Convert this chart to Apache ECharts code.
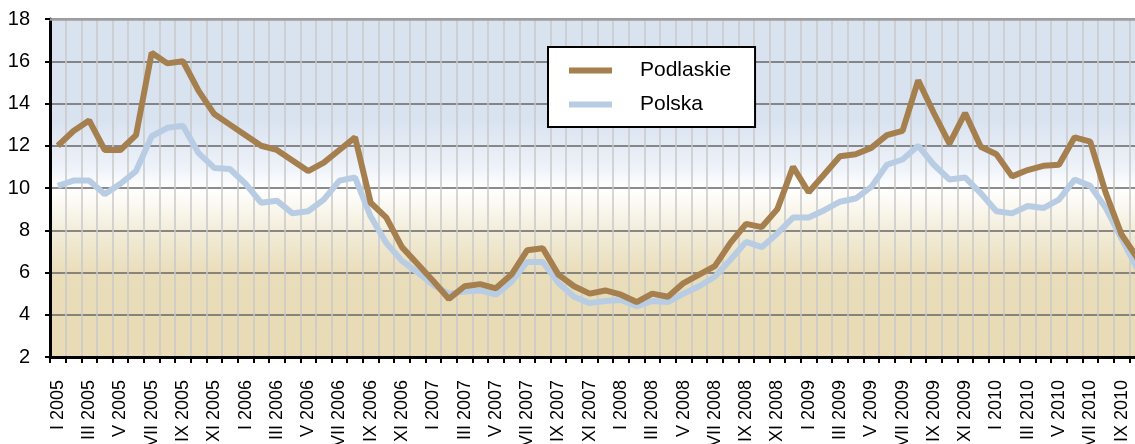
<!DOCTYPE html>
<html>
<head>
<meta charset="utf-8">
<script src="https://cdn.jsdelivr.net/npm/echarts@6/dist/echarts.min.js"></script>
<style>
html,body{margin:0;padding:0;background:#fff;}
#c{width:1135px;height:444px;}
</style>
</head>
<body>
<div id="c"></div>
<script>
const months = ['I','II','III','IV','V','VI','VII','VIII','IX','X','XI','XII'];
const categories = [];
for (let y = 2005; y <= 2010; y++) {
  for (let m = 0; m < 12; m++) {
    if (y === 2010 && m > 9) break;
    categories.push(months[m] + ' ' + y);
  }
}
const podlaskie = [
  12.0, 12.7, 13.2, 11.8, 11.8, 12.5, 16.4, 15.9, 16.0, 14.6, 13.5, 13.0,
  12.5, 12.0, 11.8, 11.3, 10.8, 11.2, 11.8, 12.4, 9.3, 8.6, 7.2, 6.4,
  5.6, 4.75, 5.35, 5.45, 5.25, 5.9, 7.05, 7.15, 5.9, 5.35, 5.0, 5.15,
  4.95, 4.6, 5.0, 4.85, 5.5, 5.9, 6.3, 7.4, 8.3, 8.15, 9.0, 11.0,
  9.8, 10.65, 11.5, 11.6, 11.9, 12.5, 12.7, 15.1, 13.55, 12.1, 13.55, 11.95,
  11.6, 10.55, 10.85, 11.05, 11.1, 12.4, 12.2, 9.75, 7.8, 6.7
];
const polska = [
  10.1, 10.35, 10.35, 9.7, 10.2, 10.8, 12.45, 12.85, 12.95, 11.65, 10.95, 10.9,
  10.2, 9.3, 9.4, 8.8, 8.9, 9.45, 10.35, 10.5, 8.65, 7.4, 6.55, 6.0,
  5.4, 5.0, 5.1, 5.15, 4.95, 5.55, 6.5, 6.5, 5.5, 4.85, 4.55, 4.65,
  4.7, 4.4, 4.65, 4.6, 5.0, 5.35, 5.8, 6.6, 7.45, 7.2, 7.85, 8.6,
  8.6, 8.95, 9.35, 9.5, 10.05, 11.1, 11.35, 12.0, 11.1, 10.4, 10.5, 9.75,
  8.9, 8.8, 9.15, 9.05, 9.45, 10.4, 10.1, 9.05, 7.6, 6.2
];
const yMin = 2, yMax = 18, yStep = 2;

const chart = echarts.init(document.getElementById('c'));
const font = 'Liberation Sans, Arial, sans-serif';
chart.setOption({
  animation: false,
  textStyle: { fontFamily: font },
  grid: {
    left: 50, top: 19, right: -10, bottom: 87,
    outerBoundsMode: 'none',
    containLabel: false,
    show: true, borderWidth: 0,
    backgroundColor: {
      type: 'linear', x: 0, y: 0, x2: 0, y2: 1,
      colorStops: [
        { offset: 0, color: '#d9e3f0' },
        { offset: 0.3, color: '#d9e3f0' },
        { offset: 0.44, color: '#eef2f9' },
        { offset: 0.5, color: '#ffffff' },
        { offset: 0.56, color: '#faf7ee' },
        { offset: 0.63, color: '#f2ecd8' },
        { offset: 0.75, color: '#e9ddba' },
        { offset: 1, color: '#e8dbb5' }
      ]
    }
  },
  legend: {
    orient: 'vertical',
    left: 548, top: 47,
    data: ['Podlaskie', 'Polska'],
    backgroundColor: '#ffffff',
    borderColor: '#000000',
    borderWidth: 2,
    padding: [11, 24, 10, 21],
    itemGap: 9,
    itemWidth: 43,
    itemHeight: 6,
    icon: 'rect',
    textStyle: { fontSize: 21, lineHeight: 25, color: '#000', fontFamily: font, padding: [0, 0, 0, 23] }
  },
  xAxis: [{
    type: 'category',
    data: categories,
    boundaryGap: true,
    axisLine: { lineStyle: { color: '#000', width: 3 } },
    axisTick: { show: true, interval: 0, length: 6, lineStyle: { color: '#000', width: 2 } },
    axisLabel: { interval: 1, rotate: 90, fontSize: 18, color: '#000', margin: 23, fontFamily: font },
    splitLine: { show: true, interval: 0, lineStyle: { color: '#c9c9c9', width: 1.5 } }
  }, {
    type: 'category',
    data: categories,
    position: 'top',
    axisLine: { show: true, lineStyle: { color: '#a0a0a0', width: 2.5 } },
    axisTick: { show: false },
    axisLabel: { show: false },
    splitLine: { show: false }
  }],
  yAxis: {
    type: 'value',
    min: yMin, max: yMax, interval: yStep,
    axisLine: { show: true, lineStyle: { color: '#000', width: 3 } },
    axisTick: { show: true, length: 5, lineStyle: { color: '#000', width: 2 } },
    axisLabel: { fontSize: 20, color: '#000', margin: 20, fontFamily: font },
    splitLine: { show: true, lineStyle: { color: '#666666', width: 1.5 } }
  },
  series: [{
    name: 'Polska',
    type: 'line',
    data: polska,
    symbol: 'none',
    z: 2,
    itemStyle: { color: '#b8cde4' },
    lineStyle: { color: '#b8cde4', width: 6 }
  }, {
    name: 'Podlaskie',
    type: 'line',
    data: podlaskie,
    symbol: 'none',
    z: 3,
    itemStyle: { color: '#a57f4e' },
    lineStyle: { color: '#a57f4e', width: 6 }
  }]
});
</script>
</body>
</html>
